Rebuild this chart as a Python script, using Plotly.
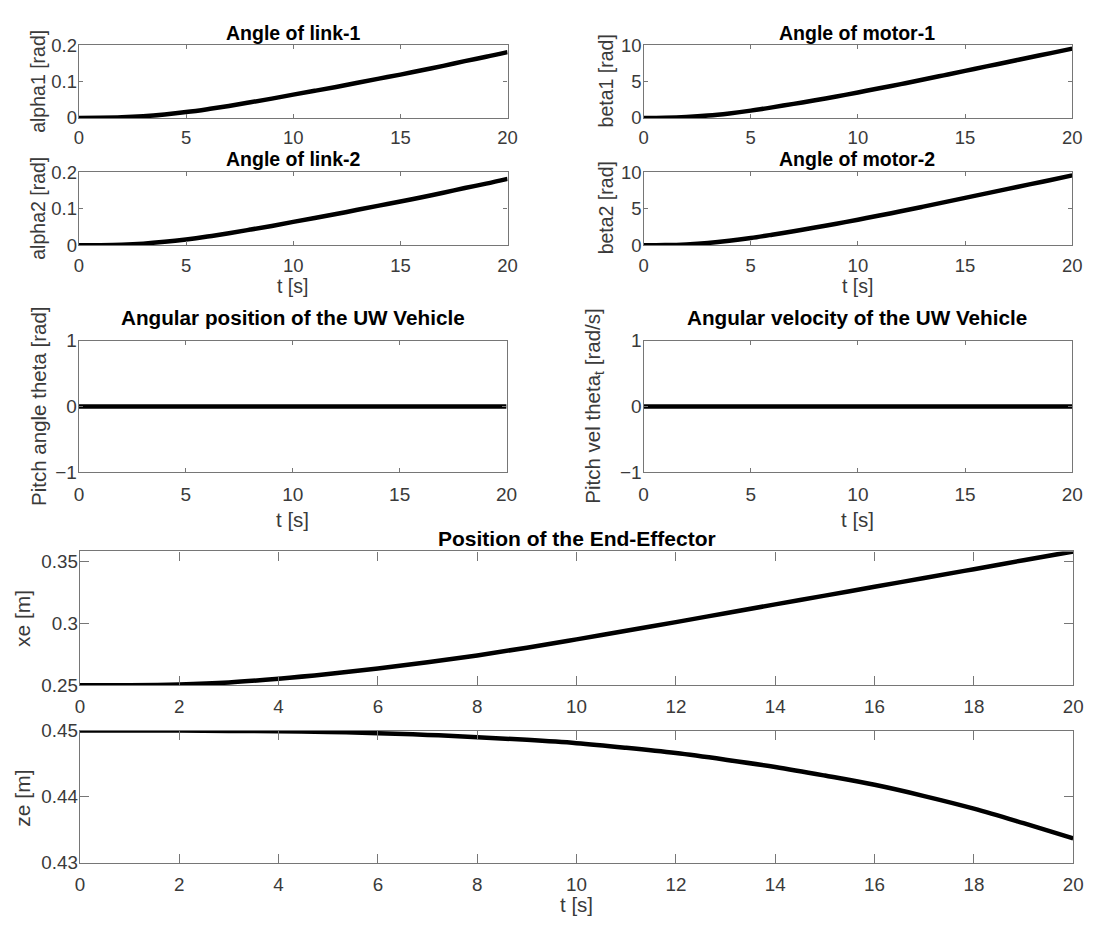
import plotly.graph_objects as go

W, H = 1099, 931

# ---------------- data ----------------
t = list(range(0, 21))
alpha1 = [0, 0.0003, 0.0015, 0.0045, 0.0095, 0.016, 0.024, 0.033, 0.043, 0.053, 0.064,
          0.0745, 0.085, 0.0965, 0.108, 0.119, 0.131, 0.143, 0.156, 0.168, 0.181]
alpha2 = [0, 0.0003, 0.0015, 0.0045, 0.0095, 0.016, 0.024, 0.033, 0.043, 0.053, 0.064,
          0.0748, 0.0855, 0.097, 0.1085, 0.1195, 0.1315, 0.1435, 0.1565, 0.1685, 0.1815]
beta1 = [0, 0.03, 0.13, 0.32, 0.62, 1.0, 1.45, 1.93, 2.43, 2.95, 3.5,
         4.07, 4.65, 5.25, 5.85, 6.47, 7.08, 7.69, 8.3, 8.91, 9.52]
beta2 = [0, 0.03, 0.13, 0.32, 0.62, 1.0, 1.45, 1.93, 2.43, 2.95, 3.5,
         4.07, 4.65, 5.25, 5.86, 6.48, 7.09, 7.71, 8.32, 8.93, 9.55]
theta = [0.0] * 21
theta_t = [0.0] * 21
xe = [0.2500, 0.2500, 0.2506, 0.2522, 0.2552, 0.2590, 0.2634, 0.2684, 0.2740, 0.2802, 0.2869,
      0.2938, 0.3008, 0.3080, 0.3151, 0.3222, 0.3293, 0.3364, 0.3435, 0.3507, 0.3578]
ze = [0.4500, 0.4500, 0.4500, 0.44995, 0.4499, 0.4498, 0.4496, 0.44935, 0.4490, 0.4486, 0.4481,
      0.4474, 0.4466, 0.4456, 0.4445, 0.4432, 0.4418, 0.4401, 0.4382, 0.4360, 0.4337]

titles = ["Angle of link-1", "Angle of link-2", "Angle of motor-1", "Angle of motor-2",
          "Angular position of the UW Vehicle", "Angular velocity of the UW Vehicle",
          "Position of the End-Effector"]
ylabels = ["alpha1 [rad]", "alpha2 [rad]", "beta1 [rad]", "beta2 [rad]",
           "Pitch angle theta [rad]", "Pitch vel theta<sub>t</sub> [rad/s]", "xe [m]", "ze [m]"]
xlabel = "t [s]"

# ---------------- layout (pixel boxes) ----------------
boxes = [
    (75, 510, 35, 109.5),     # alpha1
    (75, 510, 165, 240),      # alpha2
    (648, 1083, 35, 109.5),   # beta1
    (648, 1083, 165, 240),    # beta2
    (75, 509, 337.5, 472.5),  # theta
    (648, 1083, 337.5, 472.5),# theta_t
    (76, 1084, 553.5, 690.5), # xe
    (76, 1084, 737, 872.5),   # ze
]
series = [alpha1, alpha2, beta1, beta2, theta, theta_t, xe, ze]
yranges = [[0, 0.2], [0, 0.2], [0, 10], [0, 10], [-1, 1], [-1, 1], [0.25, 0.3578], [0.43, 0.45]]
yticks = [[0, 0.1, 0.2], [0, 0.1, 0.2], [0, 5, 10], [0, 5, 10], [-1, 0, 1], [-1, 0, 1],
          [0.25, 0.3, 0.35], [0.43, 0.44, 0.45]]
xticks_small = [0, 5, 10, 15, 20]
xticks_big = [0, 2, 4, 6, 8, 10, 12, 14, 16, 18, 20]

FONT = "Liberation Sans, Arial, Helvetica, sans-serif"
AX = "#767676"
TXT = "#3a3a3a"

fig = go.Figure()
layout = dict(width=W, height=H, margin=dict(l=0, r=0, t=0, b=0),
              paper_bgcolor="white", plot_bgcolor="white", showlegend=False,
              font=dict(family=FONT, color=TXT))

for i, (b, ys) in enumerate(zip(boxes, series)):
    k = "" if i == 0 else str(i + 1)
    x0, x1, y0, y1 = b
    big = i >= 6
    mid = i in (4, 5)
    tfs = 18.8 if big else (19 if mid else 18.5)
    tl = 9 if big else 4
    xs = 4 if big else (5 if mid else 3)
    fig.add_trace(go.Scatter(x=t, y=ys, mode="lines",
                             line=dict(color="black", width=4.5, shape="spline", smoothing=1.0),
                             xaxis="x" + k, yaxis="y" + k, hoverinfo="skip"))
    common = dict(ticks="inside", ticklen=tl, tickcolor=AX, tickwidth=1.2,
                  showline=True, linecolor=AX, linewidth=1.4, mirror="ticks",
                  showgrid=False, zeroline=False,
                  tickfont=dict(size=tfs, color=TXT, family=FONT))
    layout["xaxis" + k] = dict(domain=[x0 / W, x1 / W], anchor="y" + k, range=[0, 20],
                               tickvals=xticks_big if big else xticks_small,
                               ticklabelstandoff=xs, **common)
    layout["yaxis" + k] = dict(domain=[1 - y1 / H, 1 - y0 / H], anchor="x" + k, range=yranges[i],
                               tickvals=yticks[i], ticklabelstandoff=-3, **common)

ann = []
def A(text, x, y, size, bold=False, angle=0, color=TXT):
    ann.append(dict(text=("<b>%s</b>" % text) if bold else text, x=x / W, y=1 - y / H,
                    xref="paper", yref="paper", showarrow=False, textangle=angle,
                    xanchor="center", yanchor="middle",
                    font=dict(size=size, color=color, family=FONT)))

# subplot titles
A(titles[0], 292, 23, 19.5, True, color="black")
A(titles[1], 292, 152, 19.5, True, color="black")
A(titles[2], 865, 23, 19.5, True, color="black")
A(titles[3], 865, 152, 19.5, True, color="black")
A(titles[4], 292, 314, 20.7, True, color="black")
A(titles[5], 865, 314, 20.7, True, color="black")
A(titles[6], 580, 540, 21, True, color="black")

# y labels
A(ylabels[0], 34, 72, 19.5, angle=-90)
A(ylabels[1], 34, 202, 19.5, angle=-90)
A(ylabels[2], 610, 72, 19.5, angle=-90)
A(ylabels[3], 610, 202, 19.5, angle=-90)
A(ylabels[4], 34, 405, 20.5, angle=-90)
A(ylabels[5], 598, 405, 20.5, angle=-90)
A(ylabels[6], 18, 622, 21, angle=-90)
A(ylabels[7], 18, 806, 21, angle=-90)

# x labels
A(xlabel, 292, 282, 19.5)
A(xlabel, 865, 282, 19.5)
A(xlabel, 292, 521, 20.5)
A(xlabel, 865, 521, 20.5)
A(xlabel, 580, 915, 20.5)

layout["annotations"] = ann
fig.update_layout(**layout)
fig.write_html("out.html")
